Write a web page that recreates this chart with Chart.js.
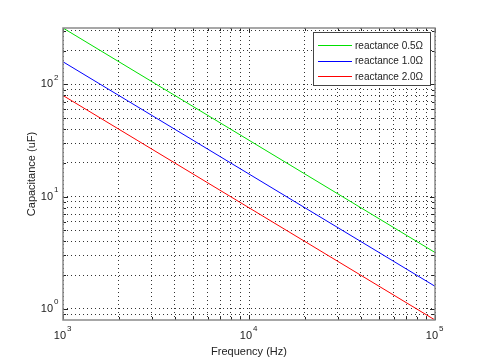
<!DOCTYPE html>
<html>
<head>
<meta charset="utf-8">
<script src="https://cdn.jsdelivr.net/npm/chart.js@4/dist/chart.umd.min.js"></script>
<style>
    html, body { margin: 0; padding: 0; background: #fff; }
    #wrap { width: 480px; height: 360px; }
</style>
</head>
<body>
<div id="wrap"><canvas id="myChart" width="480" height="360"></canvas></div>
<script>
// frequency samples (Hz)
const frequencies = [1000, 10000, 100000];
// capacitance (uF)
const cap05 = [318, 31.8, 3.18];
const cap10 = [159, 15.9, 1.59];
const cap20 = [79.6, 7.96, 0.796];
const seriesLabels = ['reactance 0.5\u03A9', 'reactance 1.0\u03A9', 'reactance 2.0\u03A9'];
const seriesColors = ['#00e000', '#0000ff', '#ff0000'];
// decade exponents used for the tick labels
const xDecades = [3, 4, 5];
const yDecades = [0, 1, 2];
const xRange = [1000, 100000];
const yRange = [0.796, 318];

const FONT = '"Liberation Sans", Arial, sans-serif';

function toPoints(values) {
    return values.map((v, i) => ({ x: frequencies[i], y: v }));
}

// keep only 1..9 x 10^k ticks
function cleanTicks(scale) {
    scale.ticks = scale.ticks.filter(t => {
        const m = t.value / Math.pow(10, Math.floor(Math.log10(t.value) + 1e-9));
        return Math.abs(m - Math.round(m)) < 1e-6;
    });
}

// axes box, inward tick marks, power-of-ten labels and boxed legend
const matlabLook = {
    id: 'matlabLook',
    afterDraw(chart) {
        const ctx = chart.ctx;
        const area = chart.chartArea;
        const xs = chart.scales.x;
        const ys = chart.scales.y;
        ctx.save();
        ctx.setLineDash([]);

        // tick marks
        ctx.strokeStyle = '#222';
        ctx.lineWidth = 1;
        xs.ticks.forEach(t => {
            const major = xDecades.some(d => Math.abs(t.value - Math.pow(10, d)) < 1e-6);
            const len = major ? 5 : 3;
            const px = Math.round(xs.getPixelForValue(t.value)) + 0.5;
            ctx.beginPath();
            ctx.moveTo(px, area.bottom); ctx.lineTo(px, area.bottom - len);
            ctx.moveTo(px, area.top); ctx.lineTo(px, area.top + len);
            ctx.stroke();
        });
        ys.ticks.forEach(t => {
            const major = yDecades.some(d => Math.abs(t.value - Math.pow(10, d)) < 1e-6);
            const len = major ? 5 : 3;
            const py = Math.round(ys.getPixelForValue(t.value)) + 0.5;
            ctx.beginPath();
            ctx.moveTo(area.left, py); ctx.lineTo(area.left + len, py);
            ctx.moveTo(area.right, py); ctx.lineTo(area.right - len, py);
            ctx.stroke();
        });

        // box
        ctx.strokeStyle = '#8a8a8a';
        ctx.lineWidth = 1.5;
        ctx.strokeRect(area.left, area.top, area.right - area.left, area.bottom - area.top);

        // tick labels 10^k
        ctx.fillStyle = '#222';
        ctx.textBaseline = 'middle';
        yDecades.forEach(d => {
            const py = ys.getPixelForValue(Math.pow(10, d));
            ctx.font = '11px ' + FONT;
            ctx.textAlign = 'right';
            ctx.fillText('10', area.left - 10, py);
            ctx.font = '8px ' + FONT;
            ctx.textAlign = 'left';
            ctx.fillText(String(d), area.left - 9, py - 7);
        });
        xDecades.forEach(d => {
            const px = xs.getPixelForValue(Math.pow(10, d));
            ctx.font = '11px ' + FONT;
            ctx.textAlign = 'right';
            ctx.fillText('10', px + 3, area.bottom + 16);
            ctx.font = '8px ' + FONT;
            ctx.textAlign = 'left';
            ctx.fillText(String(d), px + 4, area.bottom + 9);
        });

        // legend
        const lx = 313, ly = 32, lw = 117, lh = 53;
        ctx.fillStyle = '#fff';
        ctx.fillRect(lx, ly, lw, lh);
        ctx.strokeStyle = '#444';
        ctx.lineWidth = 1;
        ctx.strokeRect(lx + 0.5, ly + 0.5, lw, lh);
        chart.data.datasets.forEach((ds, i) => {
            const y = ly + 13 + i * 15.5;
            ctx.strokeStyle = seriesColors[i];
            ctx.beginPath();
            ctx.moveTo(lx + 5, Math.round(y) + 0.5);
            ctx.lineTo(lx + 39, Math.round(y) + 0.5);
            ctx.stroke();
            ctx.fillStyle = '#222';
            ctx.font = '10px ' + FONT;
            ctx.textAlign = 'left';
            ctx.fillText(ds.label, lx + 42, y + 1);
        });
        ctx.restore();
    }
};

const gridStyle = {
    color: '#333',
    lineWidth: 1,
    drawTicks: false
};

const myChart = new Chart(document.getElementById('myChart'), {
    type: 'line',
    data: {
        datasets: [
            { label: seriesLabels[0], data: toPoints(cap05), borderColor: seriesColors[0] },
            { label: seriesLabels[1], data: toPoints(cap10), borderColor: seriesColors[1] },
            { label: seriesLabels[2], data: toPoints(cap20), borderColor: seriesColors[2] }
        ].map(ds => Object.assign(ds, { borderWidth: 1, pointRadius: 0, tension: 0, fill: false }))
    },
    options: {
        responsive: false,
        animation: false,
        layout: { padding: { left: 0, right: 45, top: 28, bottom: 0 } },
        plugins: {
            legend: { display: false },
            tooltip: { enabled: false }
        },
        scales: {
            x: {
                type: 'logarithmic',
                min: xRange[0],
                max: xRange[1],
                afterBuildTicks: cleanTicks,
                grid: gridStyle,
                border: { display: false, dash: [1, 3] },
                ticks: { display: false },
                title: {
                    display: true,
                    text: 'Frequency (Hz)',
                    color: '#222',
                    font: { family: FONT, size: 11 },
                    padding: { top: 25, bottom: 1.8 }
                }
            },
            y: {
                type: 'logarithmic',
                min: yRange[0],
                max: yRange[1],
                afterBuildTicks: cleanTicks,
                grid: gridStyle,
                border: { display: false, dash: [1, 3] },
                ticks: { display: false },
                title: {
                    display: true,
                    text: 'Capacitance (uF)',
                    color: '#222',
                    font: { family: FONT, size: 11 },
                    padding: { top: 25.8, bottom: 24 }
                }
            }
        }
    },
    plugins: [matlabLook]
});
</script>
</body>
</html>
